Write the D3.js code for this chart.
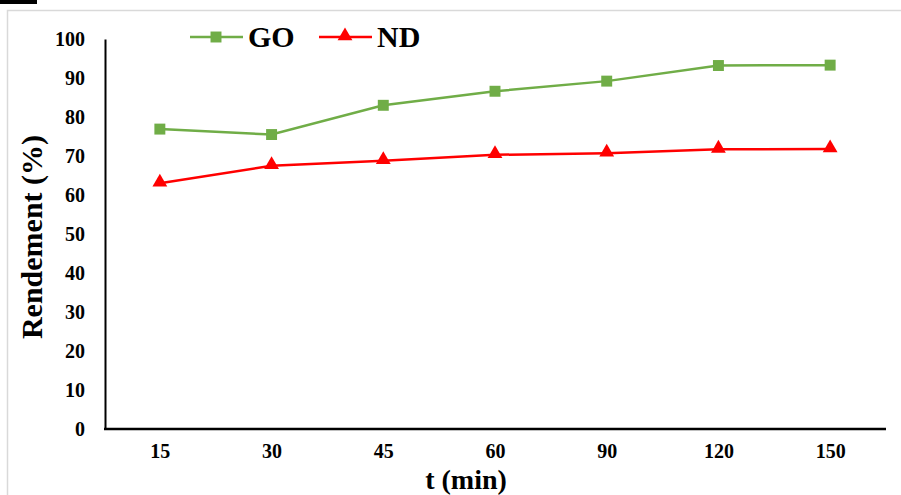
<!DOCTYPE html>
<html><head><meta charset="utf-8">
<script src="https://cdn.jsdelivr.net/npm/d3@7"></script>
<style>body{margin:0;background:#fff}svg{display:block}</style>
</head><body>
<script>
const categories = ["15","30","45","60","90","120","150"];
const goValues = [76.9, 75.5, 83.0, 86.6, 89.2, 93.2, 93.3];
const ndValues = [63.0, 67.5, 68.8, 70.3, 70.7, 71.7, 71.8];
const yTicks = [0,10,20,30,40,50,60,70,80,90,100];
const seriesNames = ["GO","ND"];

const W = 901, H = 495;
const svg = d3.select("body").append("svg").attr("width", W).attr("height", H);
const font = "'Liberation Serif','Times New Roman',serif";

svg.append("rect").attr("x",0).attr("y",0).attr("width",37).attr("height",4).attr("fill","#000");
svg.append("rect").attr("x",7.5).attr("y",10.5).attr("width",W).attr("height",H).attr("fill","none").attr("stroke","#d9d9d9").attr("stroke-width",1.5);

const x = d3.scalePoint().domain(categories).range([104, 886]).padding(0.5);
const y = d3.scaleLinear().domain([0,100]).range([429, 39]);

// axes
const yAxis = svg.append("g").attr("transform","translate(105,0)")
  .call(d3.axisLeft(y).tickValues(yTicks).tickSize(0).tickPadding(20));
yAxis.select(".domain").attr("stroke","#000").attr("stroke-width",2);
yAxis.selectAll("text").attr("font-family",font).attr("font-weight","bold").attr("font-size",20).attr("fill","#000");

const xAxis = svg.append("g").attr("transform","translate(0,429)")
  .call(d3.axisBottom(x).tickSize(0).tickPadding(15));
xAxis.select(".domain").attr("stroke","#000").attr("stroke-width",2.5).attr("d","M104,0H886");
xAxis.selectAll("text").attr("font-family",font).attr("font-weight","bold").attr("font-size",20).attr("fill","#000");

// lines
const line = d3.line().x((d,i)=>x(categories[i])).y(d=>y(d));
svg.append("path").datum(goValues).attr("d",line).attr("fill","none").attr("stroke","#70AD47").attr("stroke-width",2.5);
svg.append("path").datum(ndValues).attr("d",line).attr("fill","none").attr("stroke","#FF0000").attr("stroke-width",2.5);

const sq = d3.symbol().type(d3.symbolSquare).size(120);
const tri = d3.symbol().type(d3.symbolTriangle).size(95);
svg.selectAll(".go").data(goValues).enter().append("path")
  .attr("d",sq).attr("fill","#70AD47")
  .attr("transform",(d,i)=>`translate(${x(categories[i])},${y(d)})`);
svg.selectAll(".nd").data(ndValues).enter().append("path")
  .attr("d",tri).attr("fill","#FF0000")
  .attr("transform",(d,i)=>`translate(${x(categories[i])},${y(d)-1})`);

// legend
const lg = svg.append("g");
lg.append("line").attr("x1",190).attr("x2",243).attr("y1",37).attr("y2",37).attr("stroke","#70AD47").attr("stroke-width",2.5);
lg.append("path").attr("d",sq).attr("fill","#70AD47").attr("transform","translate(216,37)");
lg.append("text").attr("x",248).attr("y",47).text(seriesNames[0]).attr("font-family",font).attr("font-weight","bold").attr("font-size",30);
lg.append("line").attr("x1",319).attr("x2",372).attr("y1",37).attr("y2",37).attr("stroke","#FF0000").attr("stroke-width",2.5);
lg.append("path").attr("d",tri).attr("fill","#FF0000").attr("transform","translate(345,36)");
lg.append("text").attr("x",377).attr("y",47).text(seriesNames[1]).attr("font-family",font).attr("font-weight","bold").attr("font-size",30);

// axis titles
svg.append("text").attr("transform","translate(42,237) rotate(-90)").attr("text-anchor","middle")
  .attr("font-family",font).attr("font-weight","bold").attr("font-size",30).text("Rendement  (%)");
svg.append("text").attr("x",466).attr("y",489).attr("text-anchor","middle")
  .attr("font-family",font).attr("font-weight","bold").attr("font-size",28).text("t (min)");
</script>
</body></html>
